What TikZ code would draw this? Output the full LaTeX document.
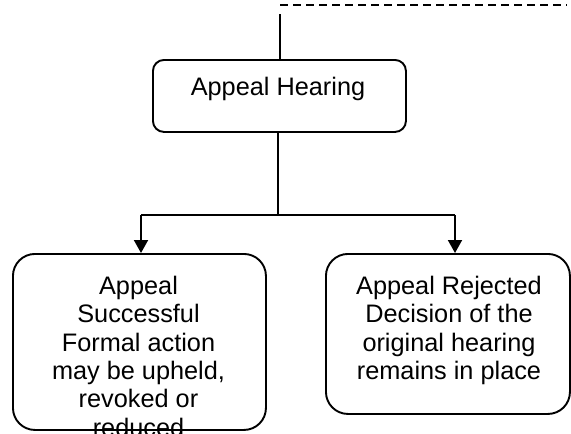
\documentclass[tikz,border=0pt]{standalone}
\usepackage{fontspec}
\setmainfont{Liberation Sans}
\usetikzlibrary{arrows.meta}
\begin{document}
\begin{tikzpicture}[x=1pt,y=-1pt,
  box/.style={draw=black,line width=1.9pt,rounded corners=#1,inner sep=0pt,anchor=north west},
  txt/.style={inner sep=0pt,anchor=north,align=center,font=\fontsize{25.3}{28.3}\selectfont},
  ln/.style={draw=black,line width=1.9pt},
  arr/.style={ln,-{Triangle[length=13pt,width=14pt]}}]
\useasboundingbox (0,0) rectangle (571,434);
% boxes
\node[box=11pt,minimum width=253pt,minimum height=72pt] (hear) at (152,59) {};
\node[box=22pt,minimum width=253pt,minimum height=176pt] (ls) at (12,253) {};
\node[box=22pt,minimum width=244pt,minimum height=160pt] (rs) at (325,253) {};
% texts
\node[txt] (hearT) at (278,77) {Appeal Hearing};
\node[txt] (lsT) at (138.5,276) {Appeal\\Successful\\Formal action\\may be upheld,\\revoked or\\reduced};
\node[txt] (rsT) at (449,276) {Appeal Rejected\\Decision of the\\original hearing\\remains in place};
% top connectors
\coordinate (d1) at (280,5);
\coordinate (d2) at (567,5);
\draw[ln,dash pattern=on 8pt off 5pt] (d1) -- (d2);
\coordinate (top) at (280,14);
\draw[ln] (top) -- (top |- hear.north);
% split
\coordinate (jn) at (278,215);
\coordinate (jl) at (141,215);
\coordinate (jr) at (455,215);
\draw[ln] (jn |- hear.south) -- (jn);
\draw[ln] (jl) -- (jr);
\draw[arr] (jl) -- (jl |- ls.north);
\draw[arr] (jr) -- (jr |- rs.north);
\end{tikzpicture}
\end{document}
